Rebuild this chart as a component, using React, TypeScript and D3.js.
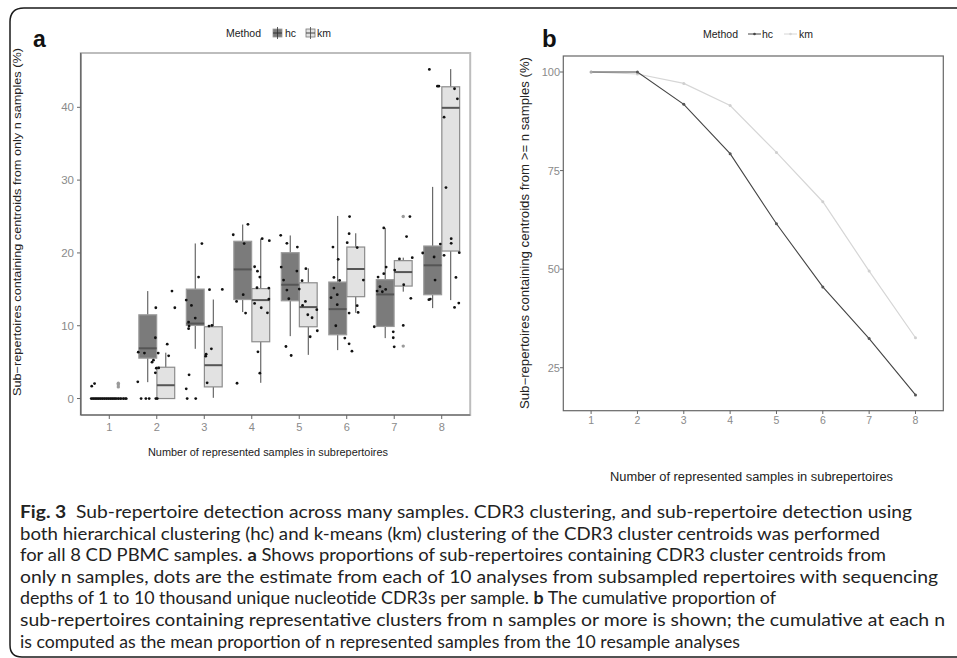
import React from "react";
import * as d3 from "d3";

// panel a : boxplots, [lower whisker, q1, median, q3, upper whisker]
const groups = [1, 2, 3, 4, 5, 6, 7, 8];
const hcBox = [
  [0, 0, 0, 0, 0],
  [2.25, 5.55, 6.9, 11.5, 14.76],
  [6.83, 10.04, 10.3, 15.03, 21.3],
  [11.88, 13.6, 17.74, 21.6, 23.9],
  [8.57, 13.43, 15.63, 20.03, 22.4],
  [6.65, 8.76, 12.28, 16.0, 25.08],
  [8.3, 9.9, 14.3, 16.33, 23.43],
  [12.42, 14.26, 18.3, 20.95, 29.07],
];
const kmBox = [
  [0, 0, 0, 0, 0],
  [0, 0, 1.83, 4.3, 6.3],
  [0.1, 1.6, 4.58, 9.86, 13.6],
  [2.16, 7.8, 13.52, 15.1, 21.96],
  [6.0, 9.86, 12.56, 15.9, 17.88],
  [11.78, 13.99, 17.79, 20.81, 22.7],
  [14.68, 15.45, 17.37, 18.94, 19.35],
  [13.52, 20.26, 39.93, 42.82, 45.25],
];
const kmOutliers = [[1.6, 1.9, 2.1], [], [], [], [], [], [25.0, 7.2], []];

// jittered estimates per group: [value, x offset]
const jitter = [
  [[0, -0.38], [0, -0.34], [0, -0.3], [0, -0.26], [0, -0.22], [0, -0.18], [0, -0.14], [0, -0.1], [0, -0.06], [0, -0.02],
   [0, 0.02], [0, 0.06], [0, 0.1], [0, 0.14], [0, 0.19], [0, 0.24], [0, 0.3], [0, 0.35], [1.7, -0.37], [2.06, -0.31]],
  [[14.76, 0.32], [12.47, -0.02], [12.47, 0.38], [8.35, -0.03], [7.47, 0.22], [6.37, -0.39], [6.24, -0.26], [6.24, 0.03],
   [5.87, 0.25], [5.27, -0.07], [5.0, -0.1], [4.17, -0.01], [4.2, 0.04], [3.53, -0.03], [2.3, -0.4], [0, -0.33],
   [0, -0.23], [0, -0.16], [0, -0.02], [0, 0.01]],
  [[21.28, -0.05], [16.69, -0.12], [14.95, 0.11], [14.99, 0.38], [13.52, -0.38], [12.79, -0.27], [11.05, -0.19],
   [10.5, -0.33], [9.95, -0.32], [9.59, -0.33], [9.95, 0.1], [10.04, 0.16], [6.83, 0.15], [6.1, 0.04], [5.82, 0.03],
   [3.26, -0.32], [2.16, 0.06], [1.33, -0.38], [0, -0.36], [0, -0.18]],
  [[23.93, -0.08], [22.5, -0.39], [21.96, 0.22], [21.69, 0.37], [21.28, -0.16], [18.1, 0.06], [17.5, 0.12], [16.69, 0.17],
   [15.22, 0.11], [15.17, 0.36], [13.66, 0.36], [13.34, -0.32], [13.07, 0.06], [12.47, 0.2], [14.26, -0.18], [11.78, 0.33],
   [11.74, -0.13], [6.42, 0.13], [3.48, 0.17], [2.1, -0.31]],
  [[22.42, -0.39], [21.32, -0.26], [20.81, -0.04], [18.06, -0.38], [17.51, -0.05], [17.84, 0.14], [16.27, -0.33],
   [16.19, 0.06], [14.9, -0.26], [15.03, 0.0], [13.71, -0.22], [13.34, 0.13], [12.79, 0.07], [12.2, 0.37], [11.51, 0.18],
   [11.1, 0.27], [9.31, 0.38], [8.49, 0.23], [7.15, -0.28], [5.91, -0.17]],
  [[25.0, 0.06], [22.65, 0.05], [21.41, 0.01], [20.81, -0.29], [20.73, 0.22], [19.12, -0.18], [16.64, -0.27], [16.23, -0.15],
   [16.27, 0.35], [15.17, -0.27], [14.26, -0.2], [13.85, -0.33], [12.89, -0.2], [12.75, 0.22], [11.83, 0.24], [11.74, 0.05],
   [10.0, -0.23], [8.3, -0.04], [7.52, 0.05], [6.51, 0.11]],
  [[25.0, 0.33], [23.43, -0.22], [22.24, 0.26], [19.35, 0.38], [19.17, 0.11], [18.06, -0.17], [17.15, -0.22], [16.69, -0.34],
   [17.65, 0.01], [15.36, -0.3], [14.99, -0.18], [14.76, -0.36], [14.67, -0.25], [15.63, 0.2], [13.76, 0.35], [9.86, -0.42],
   [10.04, 0.19], [9.17, -0.02], [8.35, -0.02], [7.11, 0.0]],
  [[45.2, -0.26], [42.9, -0.09], [42.9, -0.06], [42.55, 0.27], [41.17, 0.33], [38.65, 0.05], [28.98, 0.09], [21.96, 0.2],
   [21.32, 0.2], [21.22, -0.03], [19.99, -0.4], [20.04, 0.37], [19.67, 0.05], [19.44, -0.16], [16.27, -0.14], [16.64, 0.3],
   [13.58, -0.27], [13.66, -0.24], [13.11, 0.36], [12.52, 0.27]],
];
const yTicksA = [0, 10, 20, 30, 40];

// panel b : cumulative proportions
const hcCum = [100, 100, 91.8, 79.3, 61.5, 45.5, 32.4, 18.1];
const kmCum = [100, 99.5, 97.1, 91.5, 79.6, 67.1, 49.5, 32.6];
const yTicksB = [25, 50, 75, 100];

const captionLines = [
  { parts: [["Fig. 3", true], ["  Sub-repertoire detection across many samples. CDR3 clustering, and sub-repertoire detection using", false]], w: 892 },
  { parts: [["both hierarchical clustering (hc) and k-means (km) clustering of the CDR3 cluster centroids was performed", false]], w: 860 },
  { parts: [["for all 8 CD PBMC samples. ", false], ["a", true], [" Shows proportions of sub-repertoires containing CDR3 cluster centroids from", false]], w: 866 },
  { parts: [["only n samples, dots are the estimate from each of 10 analyses from subsampled repertoires with sequencing", false]], w: 918 },
  { parts: [["depths of 1 to 10 thousand unique nucleotide CDR3s per sample. ", false], ["b", true], [" The cumulative proportion of", false]], w: 756 },
  { parts: [["sub-repertoires containing representative clusters from n samples or more is shown; the cumulative at each n", false]], w: 925 },
  { parts: [["is computed as the mean proportion of n represented samples from the 10 resample analyses", false]], w: 720 },
];

const FONT = "'Liberation Sans', Arial, sans-serif";
const HC_FILL = "#7b7b7b";
const KM_FILL = "#e2e2e2";

export default function App() {
  const xA = d3.scaleLinear().domain([0.4, 8.6]).range([80.8, 470.2]);
  const yA = d3.scaleLinear().domain([-2.26, 47.46]).range([415, 53]);
  const xB = d3.scaleLinear().domain([0.4, 8.6]).range([563.3, 943.3]);
  const yB = d3.scaleLinear().domain([14.1, 104.06]).range([410.7, 56]);
  const halfW = xA(1.1875) - xA(1); // box half width
  const dodge = 0.19;

  const lineB = d3.line<number>().x((_, i) => xB(groups[i])).y((d) => yB(d));

  const box = (s: number[], cx: number, fill: string, stroke: string, key: string) => (
    <g key={key}>
      <line x1={cx} x2={cx} y1={yA(s[4])} y2={yA(s[3])} stroke="#4a4a4a" strokeWidth={1} />
      <line x1={cx} x2={cx} y1={yA(s[1])} y2={yA(s[0])} stroke="#4a4a4a" strokeWidth={1} />
      <rect x={cx - halfW} width={halfW * 2} y={yA(s[3])} height={Math.max(0.5, yA(s[1]) - yA(s[3]))}
        fill={fill} stroke={stroke} strokeWidth={1.2} />
      <line x1={cx - halfW} x2={cx + halfW} y1={yA(s[2])} y2={yA(s[2])} stroke="#555" strokeWidth={2} />
    </g>
  );

  return (
    <svg width={957} height={658} style={{ position: "absolute", left: 0, top: 0, background: "#fff" }}
      fontFamily={FONT}>
      <path d="M957,8 H24 Q10,8 10,22 V645 Q10,657 22,657 H957" fill="none" stroke="#1a1a1a" strokeWidth={1.5} />

      {/* ---------- panel a ---------- */}
      <text x={33} y={47} fontSize={23} fontWeight="bold" fill="#111">a</text>
      <g fontSize={10.5} fill="#222">
        <text x={226} y={37}>Method</text>
        <rect x={273} y={29} width={9} height={8} fill={HC_FILL} stroke="#999" strokeWidth={0.8} />
        <line x1={273} x2={282} y1={33} y2={33} stroke="#333" strokeWidth={1} />
        <line x1={277.5} x2={277.5} y1={27} y2={39} stroke="#333" strokeWidth={0.8} />
        <text x={285} y={37}>hc</text>
        <rect x={306} y={29} width={9} height={8} fill={KM_FILL} stroke="#777" strokeWidth={0.8} />
        <line x1={306} x2={315} y1={33} y2={33} stroke="#444" strokeWidth={1} />
        <line x1={310.5} x2={310.5} y1={27} y2={39} stroke="#444" strokeWidth={0.8} />
        <text x={317} y={37}>km</text>
      </g>

      <rect x={80.8} y={53} width={470.2 - 80.8} height={415 - 53} fill="#fff" stroke="#bdbdbd" strokeWidth={2} />
      {groups.map((g, i) => box(hcBox[i], xA(g - dodge), HC_FILL, "#9a9a9a", "hc" + g))}
      {groups.map((g, i) => box(kmBox[i], xA(g + dodge), KM_FILL, "#8c8c8c", "km" + g))}
      {groups.map((g, i) =>
        kmOutliers[i].map((v, j) => (
          <circle key={`o${g}-${j}`} cx={xA(g + dodge)} cy={yA(v)} r={1.7} fill="#9a9a9a" />
        ))
      )}
      {groups.map((g, i) =>
        jitter[i].map(([v, dx], j) => (
          <circle key={`p${g}-${j}`} cx={xA(g + dx)} cy={yA(v)} r={1.4} fill="#111" />
        ))
      )}
      <line x1={80.8} x2={80.8} y1={53} y2={415} stroke="#555" strokeWidth={1.2} />
      <line x1={80.8} x2={470.2} y1={415} y2={415} stroke="#555" strokeWidth={1.2} />
      {yTicksA.map((t) => (
        <g key={"ya" + t}>
          <line x1={77} x2={80.8} y1={yA(t)} y2={yA(t)} stroke="#666" />
          <text x={74} y={yA(t) + 4} textAnchor="end" fontSize={11.5} fill="#8a8a8a">{t}</text>
        </g>
      ))}
      {groups.map((g) => (
        <g key={"xa" + g}>
          <line x1={xA(g)} x2={xA(g)} y1={415} y2={419} stroke="#666" />
          <text x={xA(g)} y={431} textAnchor="middle" fontSize={11} fill="#8a8a8a">{g}</text>
        </g>
      ))}
      <text x={268} y={456} textAnchor="middle" fontSize={11.5} fill="#222" textLength={240}
        lengthAdjust="spacingAndGlyphs">Number of represented samples in subrepertoires</text>
      <text transform="translate(21,222) rotate(-90)" textAnchor="middle" fontSize={11.5} fill="#222"
        textLength={348} lengthAdjust="spacingAndGlyphs">
        Sub−repertoires containing centroids from only n samples (%)
      </text>

      {/* ---------- panel b ---------- */}
      <text x={542} y={47} fontSize={24} fontWeight="bold" fill="#111">b</text>
      <g fontSize={10.5} fill="#222">
        <text x={703} y={38}>Method</text>
        <line x1={748} x2={761} y1={34} y2={34} stroke="#444" strokeWidth={1} />
        <circle cx={754.5} cy={34} r={1.3} fill="#444" />
        <text x={762} y={38}>hc</text>
        <line x1={784} x2={797} y1={34} y2={34} stroke="#d6d6d6" strokeWidth={1} />
        <circle cx={790.5} cy={34} r={1.3} fill="#d6d6d6" />
        <text x={799} y={38}>km</text>
      </g>
      <rect x={563.3} y={56} width={943.3 - 563.3} height={410.7 - 56} fill="#fff" stroke="#666" strokeWidth={1.2} />
      <path d={lineB(kmCum) || ""} fill="none" stroke="#d6d6d6" strokeWidth={1.2} />
      {kmCum.map((v, i) => (
        <circle key={"kb" + i} cx={xB(groups[i])} cy={yB(v)} r={1.5} fill="#cfcfcf" />
      ))}
      <path d={lineB(hcCum) || ""} fill="none" stroke="#444" strokeWidth={1.1} />
      {hcCum.map((v, i) => (
        <circle key={"hb" + i} cx={xB(groups[i])} cy={yB(v)} r={1.5} fill={i === 0 ? "#aaa" : "#555"} />
      ))}
      {yTicksB.map((t) => (
        <g key={"yb" + t}>
          <line x1={560} x2={563.3} y1={yB(t)} y2={yB(t)} stroke="#666" />
          <text x={560} y={yB(t) + 4} textAnchor="end" fontSize={11} fill="#8a8a8a">{t}</text>
        </g>
      ))}
      {groups.map((g) => (
        <g key={"xb" + g}>
          <line x1={xB(g)} x2={xB(g)} y1={410.7} y2={414} stroke="#666" />
          <text x={xB(g)} y={424} textAnchor="middle" fontSize={10.5} fill="#8a8a8a">{g}</text>
        </g>
      ))}
      <text x={751.5} y={481} textAnchor="middle" fontSize={12} fill="#222" textLength={283}
        lengthAdjust="spacingAndGlyphs">Number of represented samples in subrepertoires</text>
      <text transform="translate(529,233) rotate(-90)" textAnchor="middle" fontSize={12} fill="#222"
        textLength={352} lengthAdjust="spacingAndGlyphs">
        Sub−repertoires containing centroids from &gt;= n samples (%)
      </text>

      {/* ---------- caption ---------- */}
      <g fontFamily="Lato, 'Open Sans', sans-serif" fontSize={16.5} fill="#222">
        {captionLines.map((ln, i) => (
          <text key={"c" + i} x={20} y={518 + i * 21.6} textLength={ln.w} lengthAdjust="spacingAndGlyphs">
            {ln.parts.map(([s, b], j) => (
              <tspan key={j} fontWeight={b ? "bold" : "normal"} xmlSpace="preserve">{s as string}</tspan>
            ))}
          </text>
        ))}
      </g>
    </svg>
  );
}
